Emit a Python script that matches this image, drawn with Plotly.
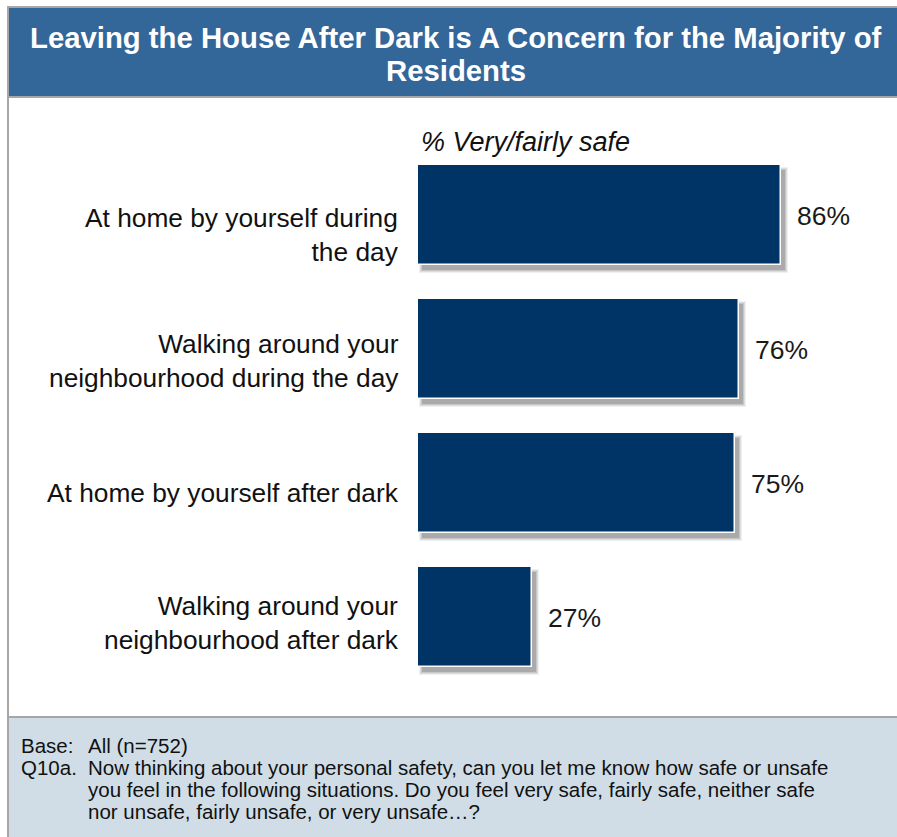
import plotly.graph_objects as go

# ---- data -------------------------------------------------------------
categories = [
    "At home by yourself during<br>the day",
    "Walking around your<br>neighbourhood during the day",
    "At home by yourself after dark",
    "Walking around your<br>neighbourhood after dark",
]
pct_safe = [86, 76, 75, 27]

title_lines = [
    "Leaving the House After Dark is A Concern for the Majority of",
    "Residents",
]
series_caption = "% Very/fairly safe"
footer_keys = ["Base:", "Q10a."]
footer_lines = [
    "All (n=752)",
    "Now thinking about your personal safety, can you let me know how safe or unsafe",
    "you feel in the following situations. Do you feel very safe, fairly safe, neither safe",
    "nor unsafe, fairly unsafe, or very unsafe\u2026?",
]

# ---- page geometry (pixels) -------------------------------------------
W, H = 897, 837
PL, PR, PT, PB = 418, 840, 148, 684          # plot area edges
FONT = "Liberation Sans, Arial, Helvetica, sans-serif"
NAVY = "#003366"
TITLE_BLUE = "#336699"
FOOT_BG = "#d0dde6"
BORDER = "#a6a6a6"


def px(xp):
    return (xp - PL) / (PR - PL)


def py(yp):
    return (PB - yp) / (PB - PT)


XU = 100 / (PR - PL)          # x data units per pixel
YU = 1 / ((PB - PT) / 4)      # category units per pixel
BAR_W = 100 / 134

fig = go.Figure()

# soft drop shadow under each bar (several translucent layers)
for spread, alpha in [(3, 0.06), (2, 0.08), (1, 0.10), (0, 0.14)]:
    dx, dy = 4, 5
    fig.add_trace(go.Bar(
        y=categories, x=[v + 2 * spread * XU for v in pct_safe],
        base=(dx - spread) * XU, orientation="h",
        width=BAR_W + 2 * spread * YU,
        offset=-BAR_W / 2 + (dy - spread) * YU,
        marker=dict(color=f"rgba(0,0,0,{alpha})", line=dict(width=0)),
        hoverinfo="skip", showlegend=False,
    ))

# main bars
fig.add_trace(go.Bar(
    y=categories, x=pct_safe, orientation="h", width=BAR_W,
    marker=dict(color=NAVY, line=dict(color="white", width=1.5)),
    showlegend=False,
))

annotations = []

# value labels
for cat, v in zip(categories, pct_safe):
    annotations.append(dict(
        x=v, y=cat, xref="x", yref="y", text=f"{v}%", showarrow=False,
        xanchor="left", yanchor="middle", xshift=14, yshift=-1,
        font=dict(family=FONT, size=26.5, color="#1a1a1a"),
    ))

# category labels, right-aligned next to the bars
label_shift = [-20, -12, -10, -6]
for cat, s in zip(categories, label_shift):
    annotations.append(dict(
        x=px(401), y=cat, xref="paper", yref="y", text=cat, showarrow=False,
        xanchor="right", yanchor="middle", align="right", yshift=s,
        font=dict(family=FONT, size=26.3, color="#111111"),
    ))

# series caption above the bars
annotations.append(dict(
    x=px(419), y=py(142), xref="paper", yref="paper", showarrow=False,
    text=f"<i>{series_caption}</i>", xanchor="left", yanchor="middle",
    font=dict(family=FONT, size=27, color="#111111"),
))

# title in the blue header band
for line, yy in zip(title_lines, [37, 70]):
    annotations.append(dict(
        x=px(456), y=py(yy), xref="paper", yref="paper", showarrow=False,
        text=f"<b>{line}</b>", xanchor="center", yanchor="middle",
        font=dict(family=FONT, size=29.3, color="white"),
    ))

# footer notes
line_y = [745, 767, 789, 811]
for key, yy in zip(footer_keys, line_y[:2]):
    annotations.append(dict(
        x=px(19), y=py(yy), xref="paper", yref="paper", text=key,
        showarrow=False, xanchor="left", yanchor="middle",
        font=dict(family=FONT, size=20.5, color="#111111"),
    ))
for line, yy in zip(footer_lines, line_y):
    annotations.append(dict(
        x=px(86), y=py(yy), xref="paper", yref="paper", text=line,
        showarrow=False, xanchor="left", yanchor="middle",
        font=dict(family=FONT, size=20.5, color="#111111"),
    ))

shapes = [
    # header band and its gray rules
    dict(type="rect", xref="paper", yref="paper", x0=px(9), x1=px(W + 5),
         y0=py(96), y1=py(8), fillcolor=TITLE_BLUE, line=dict(width=0),
         layer="below"),
    dict(type="line", xref="paper", yref="paper", x0=px(9), x1=px(W + 5),
         y0=py(7), y1=py(7), line=dict(color=BORDER, width=2)),
    dict(type="line", xref="paper", yref="paper", x0=px(9), x1=px(W + 5),
         y0=py(97), y1=py(97), line=dict(color=BORDER, width=2)),
    # footer band
    dict(type="rect", xref="paper", yref="paper", x0=px(9), x1=px(W + 5),
         y0=py(H + 5), y1=py(718), fillcolor=FOOT_BG, line=dict(width=0),
         layer="below"),
    dict(type="line", xref="paper", yref="paper", x0=px(9), x1=px(W + 5),
         y0=py(717), y1=py(717), line=dict(color=BORDER, width=2)),
    # left frame edge
    dict(type="line", xref="paper", yref="paper", x0=px(8), x1=px(8),
         y0=py(6), y1=py(H + 5), line=dict(color=BORDER, width=2)),
]

fig.update_layout(
    width=W, height=H,
    margin=dict(l=PL, r=W - PR, t=PT, b=H - PB, pad=0),
    paper_bgcolor="white", plot_bgcolor="rgba(0,0,0,0)",
    barmode="overlay", bargap=0,
    xaxis=dict(range=[0, 100], visible=False, fixedrange=True),
    yaxis=dict(autorange="reversed", visible=False, fixedrange=True,
               categoryorder="array", categoryarray=categories),
    annotations=annotations, shapes=shapes,
    font=dict(family=FONT),
)

fig.write_html("out.html", config={"displayModeBar": False})
